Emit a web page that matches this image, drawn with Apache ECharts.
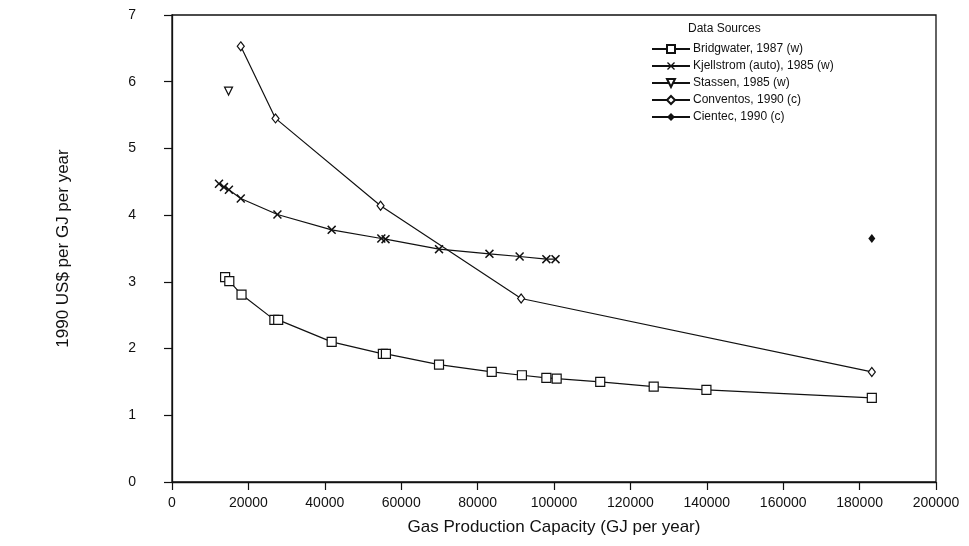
<!DOCTYPE html>
<html>
<head>
<meta charset="utf-8">
<script src="https://cdn.jsdelivr.net/npm/echarts@6/dist/echarts.min.js"></script>
<style>
html,body{margin:0;padding:0;background:#fff;}
#chart{width:969px;height:546px;}
</style>
</head>
<body>
<div id="chart"></div>
<script>
// ---- data ----
const seriesNames = ['Bridgwater, 1987 (w)', 'Kjellstrom (auto), 1985 (w)', 'Stassen, 1985 (w)', 'Conventos, 1990 (c)', 'Cientec, 1990 (c)'];

const bridgwaterX = [13900, 15000, 18200, 26800, 27800, 41800, 55200, 56000, 69900, 83700, 91600, 98000, 100700, 112100, 126100, 139900, 183200];
const bridgwaterY = [3.07, 3.01, 2.81, 2.43, 2.43, 2.10, 1.92, 1.92, 1.76, 1.65, 1.60, 1.56, 1.55, 1.50, 1.43, 1.38, 1.26];

const kjellstromX = [12300, 13600, 14900, 18000, 27600, 41800, 54800, 55900, 69900, 83100, 91000, 98000, 100400];
const kjellstromY = [4.47, 4.42, 4.38, 4.25, 4.01, 3.78, 3.65, 3.64, 3.49, 3.42, 3.38, 3.34, 3.34];

const stassenX = [14800];
const stassenY = [5.86];

const conventosX = [18000, 27100, 54600, 91400, 183200];
const conventosY = [6.53, 5.45, 4.14, 2.75, 1.65];

const cientecX = [183200];
const cientecY = [3.65];

const xAxisRange = [0, 200000, 20000];
const yAxisRange = [0, 7, 1];

function pairs(xs, ys) { return xs.map((x, i) => [x, ys[i]]); }

const FONT = 'Liberation Sans, Arial, sans-serif';
const INK = '#111';
const xPath = 'path://M0,1.2L1.2,0L5,3.8L8.8,0L10,1.2L6.2,5L10,8.8L8.8,10L5,6.2L1.2,10L0,8.8L3.8,5Z';

const chart = echarts.init(document.getElementById('chart'), null, {renderer: 'canvas'});

const baseLine = {color: INK, width: 1.2};
const openStyle = {color: '#fff', borderColor: INK, borderWidth: 1.2};

const option = {
  animation: false,
  backgroundColor: '#fff',
  textStyle: {fontFamily: FONT, color: INK},
  title: {
    text: 'Data Sources',
    left: 683, top: 18,
    textStyle: {fontFamily: FONT, fontSize: 12, fontWeight: 'normal', color: INK}
  },
  legend: {
    orient: 'vertical',
    left: 646, top: 38,
    itemWidth: 38, itemHeight: 10, itemGap: 5,
    textStyle: {fontFamily: FONT, fontSize: 12, color: INK, padding: [0, 0, 0, -2]},
    data: seriesNames
  },
  grid: {
    left: 172, top: 15, width: 764, height: 467,
    show: true, borderColor: INK, borderWidth: 1.3
  },
  xAxis: {
    type: 'value',
    min: xAxisRange[0], max: xAxisRange[1], interval: xAxisRange[2],
    name: 'Gas Production Capacity (GJ per year)',
    nameLocation: 'middle', nameGap: 37,
    nameTextStyle: {fontFamily: FONT, fontSize: 17, color: INK},
    axisLine: {lineStyle: {color: INK, width: 1.3}},
    axisTick: {length: 8, lineStyle: {color: INK, width: 1.2}},
    axisLabel: {fontFamily: FONT, fontSize: 14, color: INK, margin: 14,
      formatter: v => String(v)},
    splitLine: {show: false}
  },
  yAxis: {
    type: 'value',
    min: yAxisRange[0], max: yAxisRange[1], interval: yAxisRange[2],
    name: '1990 US$ per GJ per year',
    nameLocation: 'middle', nameGap: 100,
    nameTextStyle: {fontFamily: FONT, fontSize: 17, color: INK},
    axisLine: {lineStyle: {color: INK, width: 1.3}},
    axisTick: {length: 8, lineStyle: {color: INK, width: 1.2}},
    axisLabel: {fontFamily: FONT, fontSize: 14, color: INK, margin: 36},
    splitLine: {show: false}
  },
  series: [
    {
      name: seriesNames[0], type: 'line', data: pairs(bridgwaterX, bridgwaterY),
      symbol: 'rect', symbolSize: 9, showAllSymbol: true,
      lineStyle: baseLine, itemStyle: openStyle
    },
    {
      name: seriesNames[1], type: 'line', data: pairs(kjellstromX, kjellstromY),
      symbol: xPath, symbolSize: 9, showAllSymbol: true,
      lineStyle: baseLine, itemStyle: {color: INK}
    },
    {
      name: seriesNames[2], type: 'line', data: pairs(stassenX, stassenY),
      symbol: 'triangle', symbolRotate: 180, symbolSize: 8,
      lineStyle: baseLine, itemStyle: openStyle
    },
    {
      name: seriesNames[3], type: 'line', data: pairs(conventosX, conventosY),
      symbol: 'diamond', symbolSize: [7, 9], showAllSymbol: true,
      lineStyle: baseLine, itemStyle: openStyle
    },
    {
      name: seriesNames[4], type: 'line', data: pairs(cientecX, cientecY),
      symbol: 'diamond', symbolSize: [7, 9],
      lineStyle: baseLine, itemStyle: {color: INK}
    }
  ]
};
chart.setOption(option);
</script>
</body>
</html>
